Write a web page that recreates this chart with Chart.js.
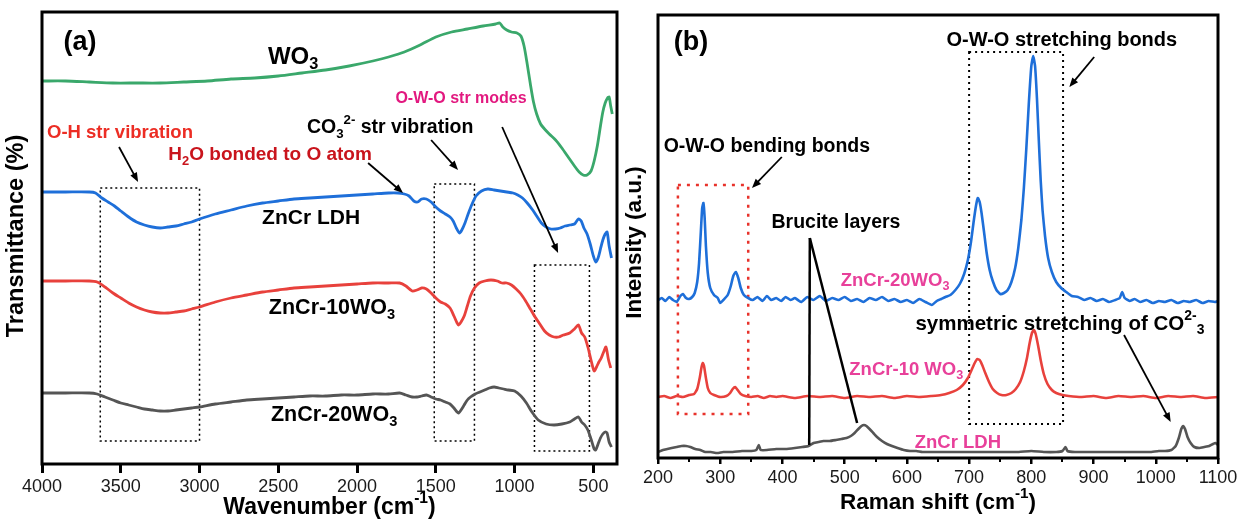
<!DOCTYPE html>
<html>
<head>
<meta charset="utf-8">
<title>FTIR and Raman spectra</title>
<script src="https://cdn.jsdelivr.net/npm/chart.js@4.4.1/dist/chart.umd.min.js"></script>
<style>
  html, body { margin: 0; padding: 0; background: #fff; }
  #wrap { position: relative; width: 1242px; height: 522px; }
  .panel { position: absolute; top: 0; width: 621px; height: 522px; }
  #panelA { left: 0; }
  #panelB { left: 621px; }
</style>
</head>
<body>
<div id="wrap">
  <div class="panel" id="panelA"><canvas id="ftirChart" width="621" height="522"></canvas></div>
  <div class="panel" id="panelB"><canvas id="ramanChart" width="621" height="522"></canvas></div>
</div>
<script>
// tick labels
const ftirTicks = [4000, 3500, 3000, 2500, 2000, 1500, 1000, 500]
const ramanTicks = [200, 300, 400, 500, 600, 700, 800, 900, 1000, 1100]
const ramanMinorTicks = [250, 350, 450, 550, 650, 750, 850, 950, 1050]

// FTIR spectra: [wavenumber, transmittance (a.u., offset per sample)]
const wo3Ftir = [
  [4000, 383], [3850, 383], [3700, 382], [3550, 381], [3400, 381], [3250, 381], [3100, 382],
  [2950, 383], [2800, 385], [2650, 386], [2500, 388], [2350, 391], [2200, 394], [2050, 398],
  [1900, 403], [1800, 407], [1700, 412], [1600, 419], [1500, 427], [1400, 432], [1300, 435],
  [1200, 438], [1120, 440], [1095, 441], [1075, 437], [1050, 434], [1020, 432], [985, 431],
  [960, 428], [940, 418], [920, 400], [900, 380], [880, 362], [860, 350], [835, 340],
  [810, 335], [780, 330], [740, 324], [700, 316], [660, 307], [620, 298], [590, 292],
  [565, 289], [540, 289], [515, 293], [495, 303], [475, 318], [455, 338], [440, 352],
  [425, 361], [410, 366], [400, 367], [390, 358], [380, 350]
]
const ldhFtir = [
  [4000, 272], [3850, 272], [3700, 272], [3660, 271], [3620, 266], [3580, 262], [3540, 258],
  [3500, 253], [3450, 247], [3400, 242], [3350, 239], [3300, 237], [3250, 236], [3200, 237],
  [3150, 238], [3100, 240], [3050, 242], [3000, 245], [2900, 250], [2800, 254], [2700, 258],
  [2600, 261], [2500, 263], [2400, 265], [2300, 266], [2200, 267], [2100, 268], [2000, 269],
  [1900, 270], [1800, 271], [1740, 271], [1700, 270], [1670, 268], [1640, 263], [1615, 262],
  [1590, 265], [1560, 265], [1530, 262], [1500, 257], [1470, 253], [1440, 250], [1410, 247],
  [1390, 243], [1370, 236], [1350, 231], [1335, 234], [1315, 241], [1295, 250], [1270, 260],
  [1245, 268], [1210, 273], [1170, 275], [1130, 274], [1090, 273], [1050, 272], [1010, 271],
  [980, 269], [950, 266], [920, 261], [890, 255], [860, 248], [830, 241], [800, 237],
  [770, 235], [740, 235], [710, 236], [680, 238], [650, 239], [620, 240], [595, 245],
  [577, 243], [560, 236], [540, 230], [520, 220], [500, 208], [485, 202], [470, 206],
  [455, 215], [440, 224], [425, 230], [413, 232], [400, 218], [385, 206]
]
const zncr10Ftir = [
  [4000, 183], [3850, 183], [3700, 183], [3650, 182], [3600, 177], [3550, 171], [3500, 166],
  [3450, 161], [3400, 157], [3350, 154], [3300, 152], [3250, 151], [3200, 151], [3150, 152],
  [3100, 153], [3050, 155], [3000, 157], [2900, 162], [2800, 166], [2700, 169], [2600, 172],
  [2500, 174], [2400, 176], [2300, 177], [2200, 178], [2100, 179], [2000, 180], [1900, 181],
  [1800, 181], [1730, 181], [1690, 178], [1650, 173], [1620, 174], [1590, 176], [1560, 175],
  [1530, 171], [1500, 166], [1470, 162], [1440, 160], [1410, 156], [1385, 148], [1365, 141],
  [1355, 139], [1340, 142], [1320, 148], [1300, 158], [1280, 168], [1255, 176], [1225, 181],
  [1190, 183], [1150, 184], [1110, 183], [1080, 181], [1050, 181], [1020, 179], [990, 175],
  [960, 170], [930, 163], [900, 155], [870, 147], [840, 140], [810, 133], [780, 129],
  [750, 127], [720, 127], [690, 129], [650, 131], [620, 135], [595, 139], [575, 131],
  [555, 127], [535, 117], [515, 104], [495, 93], [480, 97], [465, 102], [450, 106],
  [435, 112], [420, 117], [405, 105], [390, 96]
]
const zncr20Ftir = [
  [4000, 71], [3850, 71], [3700, 71], [3650, 70], [3600, 67], [3550, 64], [3500, 61],
  [3450, 59], [3400, 57], [3350, 55], [3300, 54], [3250, 53], [3200, 53], [3150, 54],
  [3100, 55], [3050, 56], [3000, 57], [2900, 60], [2800, 62], [2700, 64], [2600, 65],
  [2500, 66], [2400, 67], [2300, 68], [2200, 68], [2100, 69], [2000, 69], [1900, 70],
  [1800, 70], [1730, 71], [1690, 69], [1650, 67], [1620, 67], [1590, 68], [1560, 69],
  [1530, 67], [1500, 65], [1470, 64], [1440, 62], [1410, 60], [1385, 56], [1365, 52],
  [1355, 51], [1340, 54], [1320, 59], [1300, 64], [1280, 67], [1250, 70], [1220, 72],
  [1190, 74], [1160, 76], [1130, 77], [1100, 76], [1070, 75], [1040, 74], [1000, 73],
  [960, 68], [925, 61], [890, 52], [850, 44], [800, 40], [750, 39], [700, 40], [650, 42],
  [620, 45], [595, 47], [575, 42], [555, 39], [535, 34], [515, 25], [495, 15], [485, 14],
  [470, 20], [455, 26], [440, 30], [425, 32], [413, 31], [400, 22], [385, 17]
]

// Raman spectra: [Raman shift, intensity (a.u., offset per sample)]
const zncr20Raman = [
  [200, 158], [206, 160], [212, 157], [218, 161], [224, 158], [230, 156], [236, 162], [240, 164],
  [245, 160], [250, 159], [255, 161], [259, 165], [263, 176], [266, 195], [269, 228], [271, 250],
  [273, 255], [275, 240], [277, 212], [280, 185], [284, 170], [290, 163], [296, 160], [300, 155],
  [305, 158], [312, 163], [317, 172], [321, 182], [325, 186], [329, 180], [333, 170], [338, 163],
  [345, 160], [352, 158], [360, 161], [368, 157], [375, 162], [382, 158], [390, 160], [398, 157],
  [405, 161], [413, 158], [420, 160], [430, 156], [440, 161], [450, 158], [460, 162], [470, 157],
  [480, 160], [490, 158], [500, 161], [510, 157], [520, 159], [530, 156], [540, 160], [550, 158],
  [560, 161], [570, 157], [580, 159], [590, 156], [600, 158], [610, 155], [620, 159], [630, 156],
  [640, 153], [648, 157], [655, 159], [662, 161], [670, 163], [678, 168], [685, 174], [692, 184],
  [698, 198], [703, 216], [707, 235], [711, 252], [714, 260], [717, 256], [720, 245], [724, 226],
  [728, 206], [733, 188], [738, 177], [744, 168], [750, 164], [756, 165], [762, 168], [768, 176],
  [774, 190], [779, 210], [784, 238], [788, 270], [792, 310], [796, 355], [800, 392], [803, 402],
  [806, 392], [809, 360], [812, 318], [815, 278], [818, 248], [822, 222], [827, 200], [833, 186],
  [840, 176], [848, 170], [856, 166], [865, 162], [875, 161], [885, 158], [895, 160], [905, 157],
  [915, 159], [925, 156], [935, 158], [942, 160], [946, 166], [950, 160], [958, 157], [966, 159],
  [975, 156], [985, 158], [995, 155], [1005, 157], [1015, 156], [1025, 158], [1035, 155],
  [1045, 157], [1055, 156], [1065, 158], [1075, 155], [1085, 157], [1095, 156], [1100, 157]
]
const zncr10Raman = [
  [200, 61], [210, 62], [220, 60], [230, 62], [240, 61], [250, 63], [258, 64], [263, 69],
  [267, 80], [270, 91], [272, 95], [274, 92], [277, 80], [280, 70], [284, 65], [290, 63],
  [300, 61], [310, 62], [316, 65], [320, 69], [324, 71], [328, 68], [333, 64], [340, 62],
  [350, 61], [360, 62], [370, 60], [380, 62], [390, 61], [400, 62], [420, 60], [440, 62],
  [460, 61], [480, 62], [500, 60], [520, 62], [540, 61], [560, 62], [580, 60], [600, 62],
  [620, 61], [640, 62], [655, 63], [668, 65], [680, 68], [690, 73], [698, 80], [704, 88],
  [709, 95], [713, 99], [717, 98], [721, 93], [726, 85], [732, 76], [738, 69], [745, 65],
  [752, 63], [760, 63], [768, 65], [775, 69], [782, 76], [788, 87], [793, 100], [797, 114],
  [801, 125], [804, 128], [807, 124], [811, 112], [815, 98], [820, 84], [826, 74], [833, 68],
  [840, 65], [850, 63], [860, 62], [880, 61], [900, 62], [920, 60], [940, 62], [960, 61],
  [980, 62], [1000, 60], [1020, 62], [1040, 61], [1060, 62], [1080, 60], [1100, 61]
]
const ldhRaman = [
  [200, 6], [208, 8], [215, 9], [222, 10], [230, 11], [238, 12], [245, 12], [252, 11],
  [260, 9], [268, 8], [276, 6], [285, 6], [295, 5], [305, 6], [320, 6], [335, 7], [350, 7],
  [358, 8], [362, 13], [365, 8], [375, 8], [390, 9], [405, 9], [420, 10], [432, 11], [442, 12],
  [450, 15], [458, 16], [466, 17], [476, 17], [486, 18], [495, 19], [503, 20], [510, 22],
  [516, 25], [522, 29], [527, 32], [531, 33], [535, 32], [540, 29], [546, 25], [552, 21],
  [560, 17], [568, 14], [576, 12], [585, 10], [595, 8], [605, 7], [615, 7], [625, 6],
  [640, 6], [660, 6], [680, 6], [700, 6], [720, 6], [740, 6], [760, 6], [780, 6], [800, 7],
  [820, 6], [840, 6], [850, 7], [855, 11], [858, 7], [870, 6], [890, 6], [910, 6], [930, 6],
  [950, 6], [970, 6], [990, 6], [1005, 7], [1015, 7], [1025, 8], [1032, 12], [1037, 20],
  [1041, 29], [1044, 32], [1047, 29], [1051, 21], [1056, 15], [1062, 11], [1070, 10],
  [1078, 11], [1086, 12], [1092, 14], [1096, 15], [1100, 13]
]

const FONT = "'Liberation Sans', Arial, sans-serif"
const MAGENTA = '#e8409a'

const toXY = pts => pts.map(([x, y]) => ({ x, y }))

// split "WO_{3}" / "cm^{-1}" into plain, sub and sup runs
function parseRich(str) {
  const parts = []
  const re = /([_^])\{([^}]*)\}/g
  let last = 0, m
  while ((m = re.exec(str))) {
    if (m.index > last) parts.push({ t: str.slice(last, m.index), mode: '' })
    parts.push({ t: m[2], mode: m[1] })
    last = re.lastIndex
  }
  if (last < str.length) parts.push({ t: str.slice(last), mode: '' })
  return parts
}

function drawRich(ctx, str, x, y, size, color, angle) {
  const parts = parseRich(str)
  const fontFor = p => `bold ${p.mode ? size * 0.68 : size}px ${FONT}`
  let total = 0
  parts.forEach(p => { ctx.font = fontFor(p); p.w = ctx.measureText(p.t).width; total += p.w })
  ctx.save()
  ctx.translate(x, y)
  if (angle) ctx.rotate(angle)
  ctx.fillStyle = color
  ctx.textBaseline = 'middle'
  ctx.textAlign = 'left'
  let cx = -total / 2
  parts.forEach(p => {
    ctx.font = fontFor(p)
    const dy = p.mode === '_' ? size * 0.32 : p.mode === '^' ? -size * 0.4 : 0
    ctx.fillText(p.t, cx, dy)
    cx += p.w
  })
  ctx.restore()
}

function drawArrow(ctx, x1, y1, x2, y2, head) {
  const ang = Math.atan2(y2 - y1, x2 - x1)
  ctx.beginPath()
  ctx.moveTo(x1, y1)
  ctx.lineTo(x2 - Math.cos(ang) * head * 0.7, y2 - Math.sin(ang) * head * 0.7)
  ctx.stroke()
  if (!head) return
  ctx.beginPath()
  ctx.moveTo(x2, y2)
  ctx.lineTo(x2 - head * Math.cos(ang - 0.38), y2 - head * Math.sin(ang - 0.38))
  ctx.lineTo(x2 - head * Math.cos(ang + 0.38), y2 - head * Math.sin(ang + 0.38))
  ctx.closePath()
  ctx.fill()
}

// frame, guide boxes, arrows, labels and axis titles, all placed through the chart scales
function makeDecor(cfg) {
  return {
    id: 'decor',
    beforeDatasetsDraw(chart) {
      const { ctx, scales: { x, y } } = chart
      ctx.save()
      cfg.boxes.forEach(b => {
        ctx.setLineDash(b.dash)
        ctx.lineWidth = b.width
        ctx.strokeStyle = b.color
        const l = x.getPixelForValue(b.x1), r = x.getPixelForValue(b.x2)
        const t = y.getPixelForValue(b.y1), btm = y.getPixelForValue(b.y2)
        ctx.strokeRect(l, t, r - l, btm - t)
      })
      ctx.restore()
    },
    afterDraw(chart) {
      const { ctx, chartArea: a, scales: { x, y } } = chart
      ctx.save()
      ctx.strokeStyle = '#000'
      ctx.fillStyle = '#000'
      cfg.arrows.forEach(ar => {
        ctx.lineWidth = ar.width || 1.8
        drawArrow(ctx, x.getPixelForValue(ar.from[0]), y.getPixelForValue(ar.from[1]),
          x.getPixelForValue(ar.to[0]), y.getPixelForValue(ar.to[1]), ar.head)
      })
      cfg.labels.forEach(lb => {
        drawRich(ctx, lb.text, x.getPixelForValue(lb.x), y.getPixelForValue(lb.y), lb.size, lb.color)
      })
      // minor ticks
      ctx.lineWidth = 2
      ;(cfg.minorTicks || []).forEach(v => {
        const px = Math.round(x.getPixelForValue(v))
        ctx.beginPath()
        ctx.moveTo(px, a.bottom)
        ctx.lineTo(px, a.bottom + 4)
        ctx.stroke()
      })
      // plot frame
      ctx.lineWidth = 3
      ctx.strokeRect(a.left, a.top, a.right - a.left, a.bottom - a.top)
      // axis titles
      drawRich(ctx, cfg.xTitle, (a.left + a.right) / 2, a.bottom + cfg.xTitleGap, cfg.xTitleSize, '#000')
      drawRich(ctx, cfg.yTitle, a.left - cfg.yTitleGap, (a.top + a.bottom) / 2 + cfg.yTitleShift,
        cfg.yTitleSize, '#000', -Math.PI / 2)
      ctx.restore()
    }
  }
}

const lineDefaults = { pointRadius: 0, borderWidth: 2.8, tension: 0.25, fill: false }
const ramanLine = { pointRadius: 0, borderWidth: 2.6, tension: 0.15, fill: false }

// (a) FTIR
const ftirCanvas = document.getElementById('ftirChart')
// eslint-disable-next-line no-undef
new Chart(ftirCanvas.getContext('2d'), {
  type: 'line',
  data: {
    datasets: [
      { label: 'WO3', data: toXY(wo3Ftir), borderColor: '#3aa86b', ...lineDefaults },
      { label: 'ZnCr LDH', data: toXY(ldhFtir), borderColor: '#1e6fd9', ...lineDefaults },
      { label: 'ZnCr-10WO3', data: toXY(zncr10Ftir), borderColor: '#e8413c', ...lineDefaults },
      { label: 'ZnCr-20WO3', data: toXY(zncr20Ftir), borderColor: '#555555', ...lineDefaults }
    ]
  },
  options: {
    responsive: false,
    animation: false,
    layout: { padding: { left: 42, top: 12, right: 4, bottom: 0 } },
    plugins: { legend: { display: false }, tooltip: { enabled: false } },
    scales: {
      x: {
        type: 'linear',
        reverse: true,
        min: 350,
        max: 4000,
        afterBuildTicks: s => { s.ticks = ftirTicks.map(v => ({ value: v })) },
        afterFit: s => { s.height = 58 },
        border: { display: false },
        grid: { drawOnChartArea: false, drawTicks: true, tickLength: 9, lineWidth: 3, color: '#000' },
        ticks: { autoSkip: false, maxRotation: 0, padding: 3, color: '#1a1a1a', font: { family: FONT, size: 18 }, callback: v => String(v) }
      },
      y: { display: false, min: 0, max: 452 }
    }
  },
  plugins: [makeDecor({
    xTitle: 'Wavenumber (cm^{-1})',
    yTitle: 'Transmittance (%)',
    xTitleSize: 23,
    yTitleSize: 23.5,
    xTitleGap: 44,
    yTitleGap: 25,
    yTitleShift: -2,
    boxes: [
      { x1: 3630, x2: 3000, y1: 276, y2: 23, dash: [2, 3], width: 1.5, color: '#000' },
      { x1: 1510, x2: 1255, y1: 280, y2: 23, dash: [2, 3], width: 1.5, color: '#000' },
      { x1: 874, x2: 525, y1: 199, y2: 13, dash: [2, 3], width: 1.5, color: '#000' }
    ],
    arrows: [
      { from: [3511, 317], to: [3390, 282], head: 10 },
      { from: [1930, 301], to: [1708, 271], head: 10 },
      { from: [1530, 324], to: [1359, 294], head: 10 },
      { from: [1079, 337], to: [724, 211], head: 10 }
    ],
    labels: [
      { text: '(a)', x: 3759, y: 421, size: 27, color: '#000' },
      { text: 'WO_{3}', x: 2406, y: 407, size: 24, color: '#000' },
      { text: 'O-W-O str modes', x: 1340, y: 365, size: 16, color: '#e2187f' },
      { text: 'O-H str vibration', x: 3505, y: 331, size: 18.5, color: '#ec2d24' },
      { text: 'CO_{3}^{2-} str vibration', x: 1790, y: 336, size: 19.5, color: '#000' },
      { text: 'H_{2}O bonded to O atom', x: 2552, y: 309, size: 19, color: '#c9141c' },
      { text: 'ZnCr LDH', x: 2292, y: 246, size: 21, color: '#000' },
      { text: 'ZnCr-10WO_{3}', x: 2159, y: 156, size: 21.5, color: '#000' },
      { text: 'ZnCr-20WO_{3}', x: 2146, y: 49, size: 21.5, color: '#000' }
    ]
  })]
})

// (b) Raman
const ramanCanvas = document.getElementById('ramanChart')
// eslint-disable-next-line no-undef
new Chart(ramanCanvas.getContext('2d'), {
  type: 'line',
  data: {
    datasets: [
      { label: 'ZnCr-20WO3', data: toXY(zncr20Raman), borderColor: '#1e6fd9', ...ramanLine },
      { label: 'ZnCr-10 WO3', data: toXY(zncr10Raman), borderColor: '#e8413c', ...ramanLine },
      { label: 'ZnCr LDH', data: toXY(ldhRaman), borderColor: '#555555', ...ramanLine }
    ]
  },
  options: {
    responsive: false,
    animation: false,
    layout: { padding: { left: 37, top: 15, right: 24, bottom: 0 } },
    plugins: { legend: { display: false }, tooltip: { enabled: false } },
    scales: {
      x: {
        type: 'linear',
        min: 200,
        max: 1100,
        afterBuildTicks: s => { s.ticks = ramanTicks.map(v => ({ value: v })) },
        afterFit: s => { s.height = 64 },
        border: { display: false },
        grid: { drawOnChartArea: false, drawTicks: true, tickLength: 6, lineWidth: 2.5, color: '#000' },
        ticks: { autoSkip: false, maxRotation: 0, padding: 3, color: '#1a1a1a', font: { family: FONT, size: 18 }, callback: v => String(v) }
      },
      y: { display: false, min: 0, max: 443 }
    }
  },
  plugins: [makeDecor({
    xTitle: 'Raman shift (cm^{-1})',
    yTitle: 'Intensity (a.u.)',
    xTitleSize: 22.5,
    yTitleSize: 22.5,
    xTitleGap: 45,
    yTitleGap: 23,
    yTitleShift: 6,
    minorTicks: ramanMinorTicks,
    boxes: [
      { x1: 700, x2: 851, y1: 406, y2: 34, dash: [2, 4], width: 2, color: '#000' },
      { x1: 232, x2: 345, y1: 273, y2: 44, dash: [3, 6], width: 2.5, color: '#e8322b' }
    ],
    arrows: [
      { from: [901, 401], to: [861, 371], head: 10 },
      { from: [399, 301], to: [351, 270], head: 10 },
      { from: [444, 220], to: [443, 13], head: 0, width: 2.5 },
      { from: [444, 220], to: [520, 35], head: 0, width: 2.5 },
      { from: [949, 123], to: [1024, 36], head: 10 }
    ],
    labels: [
      { text: '(b)', x: 253, y: 415, size: 27, color: '#000' },
      { text: 'O-W-O stretching bonds', x: 849, y: 418, size: 20, color: '#000' },
      { text: 'O-W-O bending bonds', x: 375, y: 311, size: 19.5, color: '#000' },
      { text: 'Brucite layers', x: 486, y: 235, size: 19.5, color: '#000' },
      { text: 'ZnCr-20WO_{3}', x: 581, y: 177, size: 18.5, color: MAGENTA },
      { text: 'ZnCr-10 WO_{3}', x: 599, y: 88, size: 18.5, color: MAGENTA },
      { text: 'ZnCr LDH', x: 682, y: 15, size: 18.5, color: MAGENTA },
      { text: 'symmetric stretching of CO^{2-}_{3}', x: 846, y: 134, size: 20.5, color: '#000' }
    ]
  })]
})
</script>
</body>
</html>
